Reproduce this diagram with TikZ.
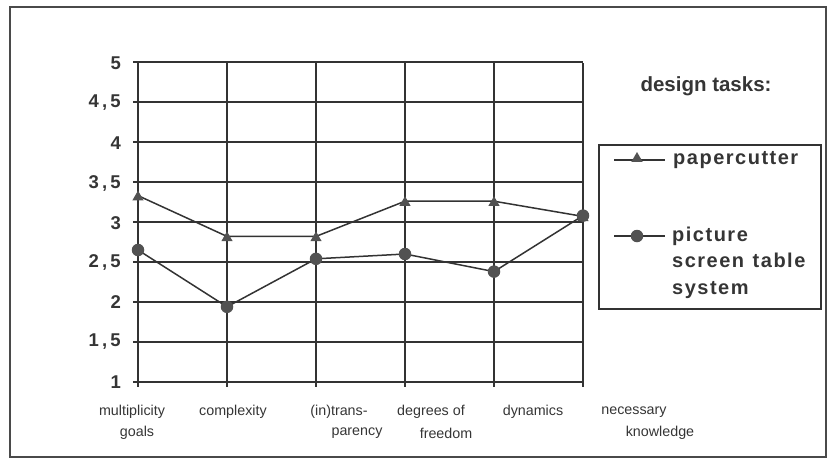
\documentclass[tikz,border=0pt]{standalone}
\usepackage{fontspec}
\setmainfont{Liberation Sans}
\usetikzlibrary{shapes.geometric}
\makeatletter
\newcommand\lsp[2]{\def\lsp@k{#1}\@tfor\lsp@c:=#2\do{\lsp@c\kern\lsp@k}\unkern}
\makeatother
\definecolor{ink}{HTML}{333333}
\definecolor{txt}{HTML}{353535}
\definecolor{framec}{HTML}{4A4A4A}
\tikzset{
  outerframe/.style={draw=framec, line width=1.5pt},
  gridline/.style={draw=ink, line width=1.6pt},
  series/.style={draw=ink, line width=1.5pt},
  trimark/.style={regular polygon, regular polygon sides=3, fill=ink!85, inner sep=0pt, minimum size=13pt},
  dotmark/.style={circle, fill=ink!85, inner sep=0pt, minimum size=12.5pt},
  ylab/.style={anchor=east, text=txt, font=\bfseries\fontsize{18.5}{20}\selectfont, inner sep=0pt},
  xlab/.style={text=txt, font=\fontsize{14.3}{16}\selectfont, inner sep=0pt},
  legtext/.style={text=txt, font=\bfseries\fontsize{20}{26.5}\selectfont, inner sep=0pt, align=left},
  legbox/.style={draw=ink, line width=1.6pt}
}
\begin{document}
\begin{tikzpicture}[x=1pt,y=-1pt]
\useasboundingbox (0,0) rectangle (832,459);
\draw[outerframe] (10,7) rectangle (826,457);
% grid
\foreach \v in {1,1.5,...,5.01} {
  \draw[gridline] (133,{382-(\v-1)*80}) -- (583,{382-(\v-1)*80});
}
\foreach \i in {0,...,5} {
  \draw[gridline] ({138+89*\i},63) -- ({138+89*\i},387);
}
% y labels
\node[ylab] (y5)  at (121,63)  {5};
\node[ylab] (y45) at (121,103) {\lsp{3.2pt}{4,5}};
\node[ylab] (y4)  at (121,143) {4};
\node[ylab] (y35) at (121,183) {\lsp{3.2pt}{3,5}};
\node[ylab] (y3)  at (121,223) {3};
\node[ylab] (y25) at (121,262) {\lsp{3.2pt}{2,5}};
\node[ylab] (y2)  at (121,302) {2};
\node[ylab] (y15) at (121,342) {\lsp{3.2pt}{1,5}};
\node[ylab] (y1)  at (121,382) {1};
% x labels
\node[xlab] (xa1) at (132,412) {multiplicity};
\node[xlab] (xa2) at (137,433) {goals};
\node[xlab] (xb1) at (233,412) {complexity};
\node[xlab] (xc1) at (339,412) {(in)trans-};
\node[xlab] (xc2) at (357,433) {parency};
\node[xlab] (xd1) at (431,412) {degrees of};
\node[xlab] (xd2) at (446,433) {freedom};
\node[xlab] (xe1) at (533,412) {dynamics};
\node[xlab] (xf1) at (634,412) {necessary};
\node[xlab] (xf2) at (660,433) {knowledge};
% data coordinates
\coordinate (p0) at (138,{382-(3.33-1)*80});
\coordinate (p1) at (227,{382-(2.82-1)*80});
\coordinate (p2) at (316,{382-(2.82-1)*80});
\coordinate (p3) at (405,{382-(3.26-1)*80});
\coordinate (p4) at (494,{382-(3.26-1)*80});
\coordinate (p5) at (583,{382-(3.07-1)*80});
\coordinate (q0) at (138,{382-(2.65-1)*80});
\coordinate (q1) at (227,{382-(1.94-1)*80});
\coordinate (q2) at (316,{382-(2.54-1)*80});
\coordinate (q3) at (405,{382-(2.60-1)*80});
\coordinate (q4) at (494,{382-(2.38-1)*80});
\coordinate (q5) at (583,{382-(3.08-1)*80});
\draw[series] (p0) -- (p1) -- (p2) -- (p3) -- (p4) -- (p5);
\draw[series] (q0) -- (q1) -- (q2) -- (q3) -- (q4) -- (q5);
\foreach \k in {0,...,5} {
  \node[trimark] (pm\k) at ([yshift=-1.5pt]p\k) {};
  \node[dotmark] (qm\k) at (q\k) {};
}
% legend
\node[text=txt, font=\bfseries\fontsize{20.5}{22}\selectfont, inner sep=0pt] (title) at (706,86) {design tasks:};
\draw[legbox] (599,145) rectangle (821,309);
\coordinate (la) at (614,160);
\coordinate (lb) at (665,160);
\draw[series] (la) -- (lb);
\node[trimark] (lt) at (637,158.5) {};
\node[legtext, anchor=west] (lpc) at (673,160) {\lsp{1.5pt}{papercutter}};
\coordinate (lc) at (614,236);
\coordinate (ld) at (665,236);
\draw[series] (lc) -- (ld);
\node[dotmark] (lm) at (637,236) {};
\node[legtext, anchor=west] (lpic) at (672,262.5) {\lsp{1.5pt}{picture}\\\lsp{1.5pt}{screen\ table}\\\lsp{1.5pt}{system}};
\end{tikzpicture}
\end{document}
